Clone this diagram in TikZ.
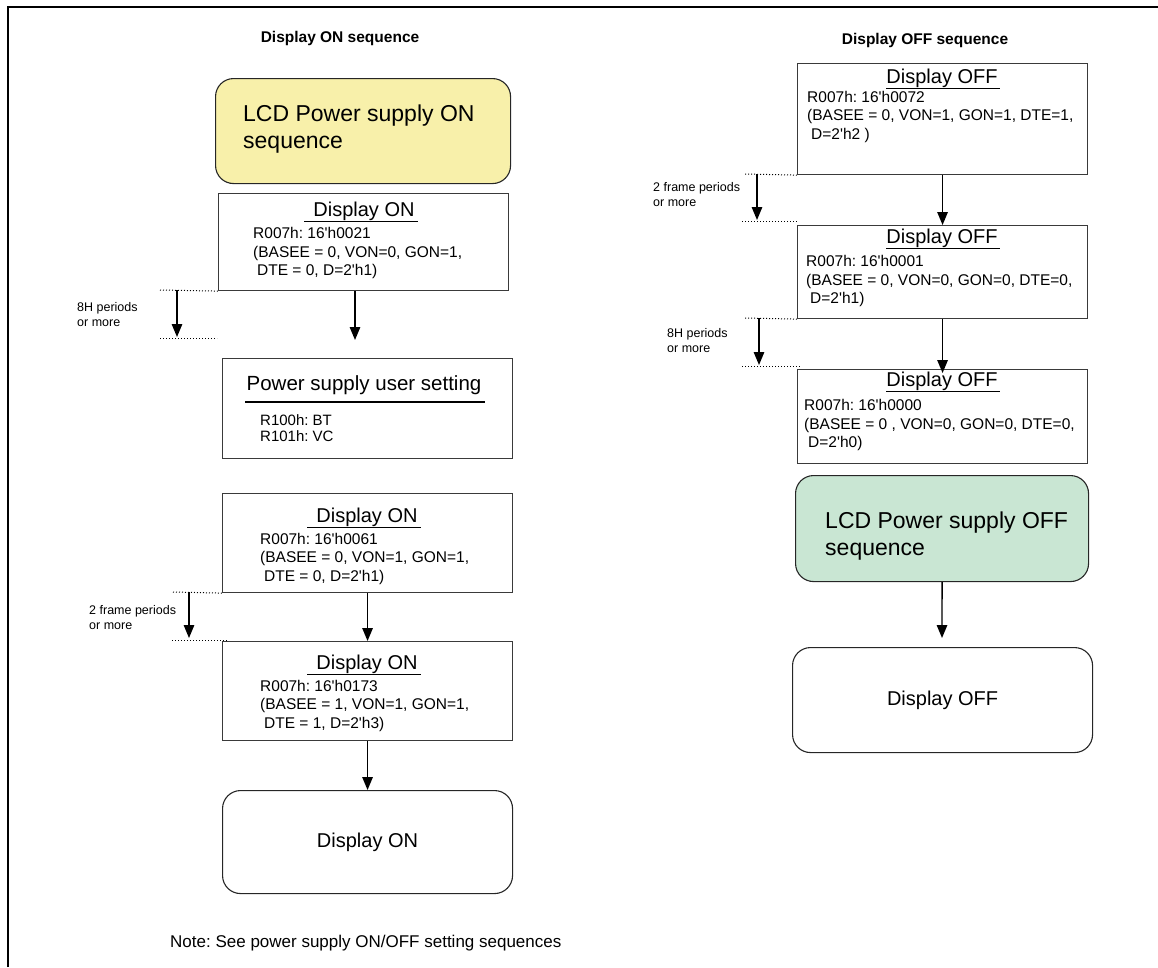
\documentclass[tikz,border=0pt]{standalone}
\usepackage{fontspec}
\setmainfont{Liberation Sans}[Ligatures=TeXOff]
\usetikzlibrary{arrows.meta,calc}
\definecolor{boxline}{HTML}{3A3A3A}
\definecolor{yelfill}{HTML}{F8F0AA}
\definecolor{grnfill}{HTML}{C9E6D3}
\tikzset{
  sqbox/.style={draw=boxline, line width=1.1pt, anchor=north west, inner sep=0pt, minimum width=290pt},
  rbox/.style={draw=black!85, line width=1.1pt, rounded corners=18pt, anchor=north west, inner sep=0pt},
  ttl/.style={font=\fontsize{20}{24}\selectfont, inner sep=0pt, anchor=center},
  bodytxt/.style={font=\fontsize{15.5}{18.3}\selectfont, align=left, anchor=north west, inner sep=0pt},
  bigtxt/.style={font=\fontsize{23}{27}\selectfont, align=left, anchor=north west, inner sep=0pt},
  smalltxt/.style={font=\fontsize{12.5}{15.5}\selectfont, align=left, anchor=north west, inner sep=0pt},
  hdr/.style={font=\fontsize{15.5}{18}\selectfont\bfseries, inner sep=0pt},
  arr/.style={-{Triangle[width=10.5pt,length=13pt]}, line width=1.4pt},
  dots/.style={dotted, line width=1pt},
  uline/.style={line width=1.1pt},
}
\frenchspacing
\begin{document}
\begin{tikzpicture}[x=1pt,y=-1pt]
\useasboundingbox (0,0) rectangle (1158,967);
\draw[line width=2.2pt] (8,967) -- (8,7) -- (1158,7);

% ---------------- Left column ----------------
\node[hdr] (hdrL) at (340,38) {Display ON sequence};

\node[rbox, fill=yelfill, minimum width=295pt, minimum height=105pt] (yel) at (215,78) {};
\node[bigtxt] (yeltxt) at (243,104.5) {LCD Power supply ON\\sequence};

\node[sqbox, minimum height=97pt] (b1) at (218,193) {};
\node[ttl] (b1t) at (364,211) {Display ON};
\draw[uline] ($(b1t.south west)+(-9,1)$) -- ($(b1t.south east)+(3,1)$);
\node[bodytxt] (b1b) at (253,227.5) {R007h: 16'h0021\\(BASEE = 0, VON=0, GON=1,\\\hspace*{4pt}DTE = 0, D=2'h1)};

\node[sqbox, minimum height=100pt] (ps) at (222,358) {};
\node[ttl, font=\fontsize{20.5}{24}\selectfont] (pst) at (364,385) {Power supply user setting};
\draw[uline] (245,402) -- (485,402);
\node[bodytxt, font=\fontsize{15}{16}\selectfont] (psb) at (260,414) {R100h: BT\\R101h: VC};

\node[sqbox, minimum height=99pt] (b3) at (222,493) {};
\node[ttl] (b3t) at (367,517) {Display ON};
\draw[uline] ($(b3t.south west)+(-9,1)$) -- ($(b3t.south east)+(3,1)$);
\node[bodytxt] (b3b) at (260,533) {R007h: 16'h0061\\(BASEE = 0, VON=1, GON=1,\\\hspace*{4pt}DTE = 0, D=2'h1)};

\node[sqbox, minimum height=99pt] (b4) at (222,641) {};
\node[ttl] (b4t) at (367,664) {Display ON};
\draw[uline] ($(b4t.south west)+(-9,1)$) -- ($(b4t.south east)+(3,1)$);
\node[bodytxt] (b4b) at (260,680) {R007h: 16'h0173\\(BASEE = 1, VON=1, GON=1,\\\hspace*{4pt}DTE = 1, D=2'h3)};

\node[rbox, minimum width=290pt, minimum height=103pt] (don) at (222,790) {};
\node[ttl] (dontxt) at (don.center) {Display ON};

% arrows left
\coordinate (a1e) at (355,340);
\draw[arr] (a1e |- b1.south) -- (a1e);
\draw[arr] (b3.south) -- (b4.north);
\draw[arr] (b4.south) -- (don.north);

% side markers left
\coordinate (m1a) at (160,290);
\coordinate (m1b) at (160,338);
\coordinate (m1c) at (217,338);
\coordinate (m1s) at (177,290);
\coordinate (m1e) at (177,337);
\draw[dots] (m1a) -- (b1.south west);
\draw[dots] (m1b) -- (m1c);
\draw[arr] (m1s) -- (m1e);
\node[smalltxt] (m1l) at (77,302) {8H periods\\or more};

\coordinate (m2a) at (173,592);
\coordinate (m2b) at (172,640);
\coordinate (m2c) at (228,640);
\coordinate (m2s) at (189,592);
\coordinate (m2e) at (189,638);
\draw[dots] (m2a) -- (b3.south west);
\draw[dots] (m2b) -- (m2c);
\draw[arr] (m2s) -- (m2e);
\node[smalltxt] (m2l) at (89,605) {2 frame periods\\or more};

\node[font=\fontsize{17}{20}\selectfont, anchor=west, inner sep=0pt] (note) at (170,943) {Note: See power supply ON/OFF setting sequences};

% ---------------- Right column ----------------
\node[hdr] (hdrR) at (925,40) {Display OFF sequence};

\node[sqbox, minimum height=111pt] (ra) at (797,63) {};
\node[ttl] (rat) at (942,78) {Display OFF};
\draw[uline] ($(rat.south west)+(0,1)$) -- ($(rat.south east)+(2,1)$);
\node[bodytxt] (rab) at (807,91) {R007h: 16'h0072\\(BASEE = 0, VON=1, GON=1, DTE=1,\\\hspace*{4pt}D=2'h2 )};

\node[sqbox, minimum height=93pt] (rb) at (797,225) {};
\node[ttl] (rbt) at (942,238) {Display OFF};
\draw[uline] ($(rbt.south west)+(0,1)$) -- ($(rbt.south east)+(2,1)$);
\node[bodytxt] (rbb) at (806,255.5) {R007h: 16'h0001\\(BASEE = 0, VON=0, GON=0, DTE=0,\\\hspace*{4pt}D=2'h1)};

\node[sqbox, minimum height=94pt] (rc) at (797,369) {};
\node[ttl] (rct) at (942,381) {Display OFF};
\draw[uline] ($(rct.south west)+(0,1)$) -- ($(rct.south east)+(2,1)$);
\node[bodytxt] (rcb) at (804,399.5) {R007h: 16'h0000\\(BASEE = 0 , VON=0, GON=0, DTE=0,\\\hspace*{4pt}D=2'h0)};

\node[rbox, fill=grnfill, minimum width=293pt, minimum height=106pt] (grn) at (795,475) {};
\node[bigtxt] (grntxt) at (825,511.5) {LCD Power supply OFF\\sequence};

\node[rbox, minimum width=300pt, minimum height=105pt] (doff) at (792,647) {};
\node[ttl] (dofftxt) at (doff.center) {Display OFF};

% arrows right
\draw[arr] (ra.south) -- (rb.north);
\draw[arr] (rb.south) -- ([yshift=-4pt]rc.north);
\coordinate (g2e) at (942,638);
\draw[arr] (grn.south) -- (g2e);

% side markers right
\coordinate (m3a) at (745,174);
\coordinate (m3b) at (742,221);
\coordinate (m3c) at (799,221);
\coordinate (m3s) at (757,174);
\coordinate (m3e) at (757,220);
\draw[dots] (m3a) -- (ra.south west);
\draw[dots] (m3b) -- (m3c);
\draw[arr] (m3s) -- (m3e);
\node[smalltxt] (m3l) at (653,182) {2 frame periods\\or more};

\coordinate (m4a) at (745,318);
\coordinate (m4b) at (742,366);
\coordinate (m4c) at (800,366);
\coordinate (m4s) at (759,318);
\coordinate (m4e) at (759,365);
\draw[dots] (m4a) -- (rb.south west);
\draw[dots] (m4b) -- (m4c);
\draw[arr] (m4s) -- (m4e);
\node[smalltxt] (m4l) at (667,328) {8H periods\\or more};
\end{tikzpicture}
\end{document}
